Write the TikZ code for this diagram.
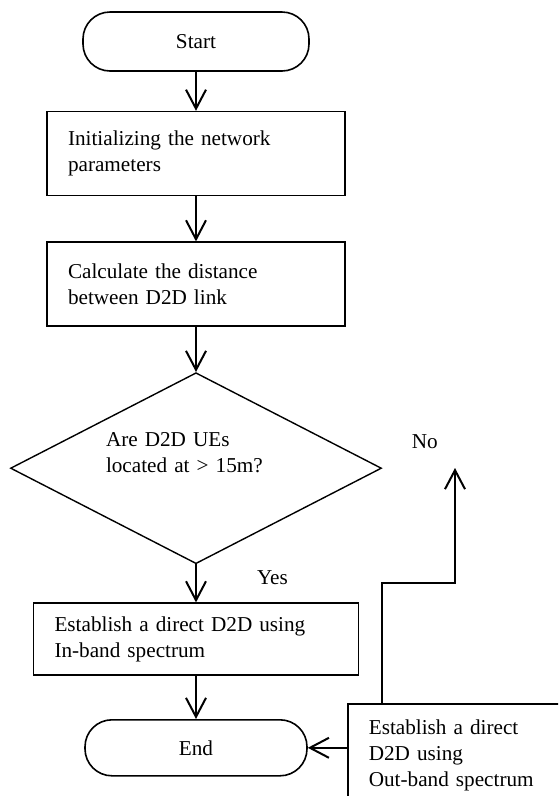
\documentclass[tikz,border=0pt]{standalone}
\usepackage{fontspec}
\setmainfont{Liberation Serif}
\usetikzlibrary{shapes.geometric,arrows.meta,positioning,calc}

\begin{document}
\begin{tikzpicture}[
    x=1pt, y=-1pt,
    font=\fontsize{21.2}{26}\selectfont,
    terminal/.style={rectangle, draw=black, line width=1.6pt, rounded corners=27pt, minimum height=59pt, minimum width=226pt, inner sep=0pt},
    process/.style={rectangle, draw=black, line width=1.6pt, align=left, inner xsep=21pt, inner ysep=0pt, minimum height=84pt},
    decision/.style={diamond, draw=black, line width=1.4pt, aspect=1.94, minimum width=371pt, minimum height=191pt, text width=180pt, align=left, text depth=58pt, inner sep=3pt},
    arrow/.style={-{Straight Barb[length=19pt, width=20pt]}, line width=2pt}
]
\useasboundingbox (0,0) rectangle (558,796);
\clip (0,0) rectangle (558,796);

% Main flow
\node[terminal] (start) at (196,41.5) {Start};
\node[process, text width=256pt, below=39pt of start] (init) {Initializing the network\\parameters};
\node[process, text width=256pt, below=45pt of init] (dist) {Calculate the distance\\between D2D link};
\node[decision, below=45pt of dist] (check) {Are D2D UEs\\located at > 15m?};
\node[process, text width=283pt, minimum height=72pt, below=38pt of check] (inband) {Establish a direct D2D using\\In-band spectrum};
\node[terminal, minimum width=222pt, minimum height=56pt, below=43pt of inband] (finish) {End};
\node[process, text width=200pt, minimum height=104pt, anchor=north west] (outband) at (347,703) {Establish a direct\\D2D using\\Out-band spectrum};
\coordinate (noend) at (455,468);

% Arrows
\draw[arrow] (start) -- (init);
\draw[arrow] (init) -- (dist);
\draw[arrow] (dist) -- (check);
\draw[arrow] (check) -- node[pos=0.34, right=60pt, inner sep=0pt] {Yes} (inband);
\draw[arrow] (inband) -- (finish);
\draw[arrow] (finish.east -| outband.west) -- (finish.east);
\draw[arrow] ([xshift=35pt]outband.north west) -- ++(0,-120) -| (noend);

% Labels
\node[above left=19pt and 17pt of noend, inner sep=0pt] (nolabel) {No};

\end{tikzpicture}
\end{document}
